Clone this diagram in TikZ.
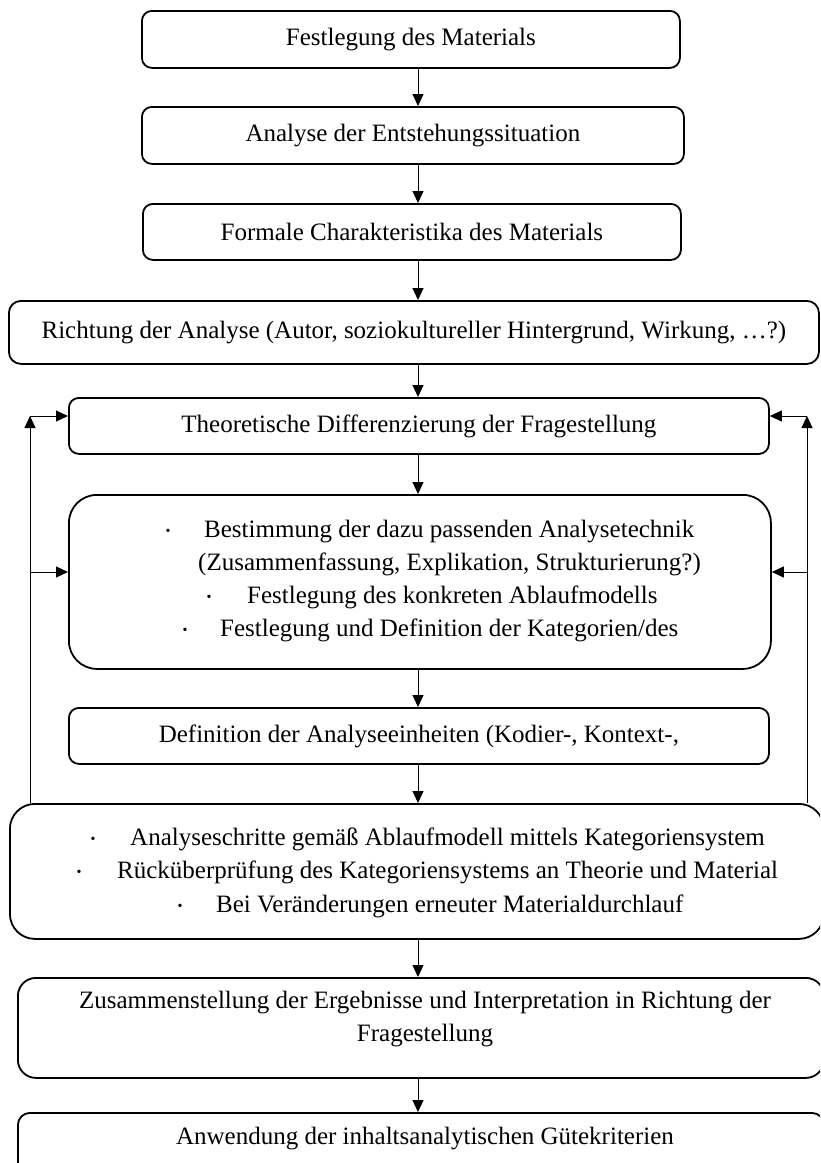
\documentclass[tikz,border=0pt]{standalone}
\usepackage{fontspec}
\setmainfont{Liberation Serif}
\usetikzlibrary{arrows.meta}
\begin{document}
\begin{tikzpicture}[x=1pt,y=-1pt,
  box/.style={draw, line width=1.8pt, rounded corners=#1, inner sep=0pt, anchor=north west,
    font=\fontsize{25}{33}\selectfont},
  txt/.style={inner sep=0pt, anchor=mid west, font=\fontsize{25}{33}\selectfont},
  ctxt/.style={inner sep=0pt, align=center, font=\fontsize{25}{33}\selectfont},
  bul/.style={inner sep=0pt, font=\fontsize{14}{14}\selectfont},
  conn/.style={line width=1pt, -{Triangle[length=12pt,width=11pt]}},
  plain/.style={line width=1pt}]
\useasboundingbox (0,0) rectangle (820,1163);
\clip (0,0) rectangle (820,1163);
\fill[white] (0,0) rectangle (820,1163);

% boxes
\node[box=10pt, minimum width=538pt, minimum height=57pt] (b1) at (141,10) {Festlegung des Materials};
\node[box=10pt, minimum width=542pt, minimum height=57pt] (b2) at (141,106) {Analyse der Entstehungssituation};
\node[box=10pt, minimum width=538pt, minimum height=56pt] (b3) at (142,203) {Formale Charakteristika des Materials};
\node[box=12pt, minimum width=810pt, minimum height=63pt] (b4) at (8,300) {Richtung der Analyse (Autor, soziokultureller Hintergrund, Wirkung, \dots?)};
\node[box=10pt, minimum width=700pt, minimum height=56pt] (b5) at (68,397) {Theoretische Differenzierung der Fragestellung};
\node[box=28pt, minimum width=702pt, minimum height=174pt] (b6) at (68,494) {};
\node[box=10pt, minimum width=700pt, minimum height=56pt] (b7) at (68,707) {Definition der Analyseeinheiten (Kodier-, Kontext-,};
\node[box=25pt, minimum width=814pt, minimum height=135pt] (b8) at (9,803) {};
\node[box=18pt, minimum width=806pt, minimum height=100pt] (b9) at (17,977) {};
\node[box=12pt, minimum width=806pt, minimum height=70pt] (b10) at (17,1112) {};

% box 6 text
\node[bul] (u61) at (168,532) {\textbullet};
\node[txt] (t61) at (204,535) {Bestimmung der dazu passenden Analysetechnik};
\node[txt] (t62) at (198,568) {(Zusammenfassung, Explikation, Strukturierung?)};
\node[bul] (u63) at (209,598) {\textbullet};
\node[txt] (t63) at (247,601) {Festlegung des konkreten Ablaufmodells};
\node[bul] (u64) at (185,631) {\textbullet};
\node[txt] (t64) at (220,634) {Festlegung und Definition der Kategorien/des};

% box 8 text
\node[bul] (u81) at (93,840) {\textbullet};
\node[txt] (t81) at (130,843) {Analyseschritte gemäß Ablaufmodell mittels Kategoriensystem};
\node[bul] (u82) at (79,873) {\textbullet};
\node[txt] (t82) at (117,876) {Rücküberprüfung des Kategoriensystems an Theorie und Material};
\node[bul] (u83) at (180,907) {\textbullet};
\node[txt] (t83) at (216,910) {Bei Veränderungen erneuter Materialdurchlauf};

% box 9 and 10 text
\node[ctxt] (t9) at (425,1019) {Zusammenstellung der Ergebnisse und Interpretation in Richtung der\\Fragestellung};
\node[ctxt] (t10) at (425,1139) {Anwendung der inhaltsanalytischen Gütekriterien};

% main arrows
\coordinate (ax) at (418,0);
\draw[conn] (b1.south -| ax) -- (b2.north -| ax);
\draw[conn] (b2.south -| ax) -- (b3.north -| ax);
\draw[conn] (b3.south -| ax) -- (b4.north -| ax);
\draw[conn] (b4.south -| ax) -- (b5.north -| ax);
\draw[conn] (b5.south -| ax) -- (b6.north -| ax);
\draw[conn] (b6.south -| ax) -- (b7.north -| ax);
\draw[conn] (b7.south -| ax) -- (b8.north -| ax);
\draw[conn] (b8.south -| ax) -- (b9.north -| ax);
\draw[conn] (b9.south -| ax) -- (b10.north -| ax);

% feedback loops
\coordinate (lx) at (30,0);
\coordinate (rx) at (807,0);
\coordinate (ly) at (0,416);
\coordinate (my) at (0,572);
\coordinate (lc) at (lx |- ly);
\coordinate (rc) at (rx |- ly);
\draw[conn] (b8.north -| lx) -- (lc);
\draw[conn] (lc) -- (b5.west |- ly);
\draw[conn] (lx |- my) -- (b6.west |- my);
\draw[conn] (b8.north -| rx) -- (rc);
\draw[conn] (rc) -- (b5.east |- ly);
\draw[conn] (rx |- my) -- (b6.east |- my);
\end{tikzpicture}
\end{document}
